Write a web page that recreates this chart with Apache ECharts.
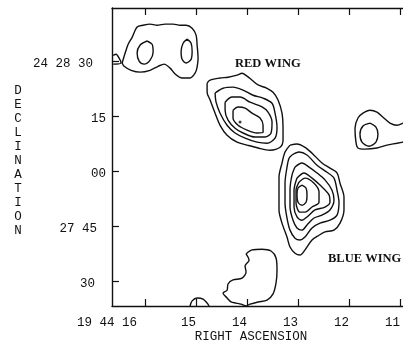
<!DOCTYPE html>
<html>
<head>
<meta charset="utf-8">
<script src="https://cdn.jsdelivr.net/npm/echarts@6/dist/echarts.min.js"></script>
<style>
html,body{margin:0;padding:0;background:#fff;}
#chart{width:403px;height:345px;}
</style>
</head>
<body>
<div id="chart"></div>
<script>
// Axis: RA seconds of time (19h 44m ss), Dec seconds of arc past 24°27'00"
var xTickValues = [16, 15, 14, 13, 12, 11];
var xTickLabels = ['19 44 16', '15', '14', '13', '12', '11'];
var yTickValues = [90, 75, 60, 45, 30];
var yTickLabels = ['24 28 30', '15', '00', '27 45', '30'];

var nwOuter = [[16.451,89.5],[16.392,92.2],[16.333,94.6],[16.255,96.5],[16.157,99.3],[16.039,99.8],[15.902,100.1],[15.765,99.8],[15.608,100.1],[15.451,100.1],[15.314,99.8],[15.196,99.8],[15.078,99.0],[15.0,97.1],[14.980,94.4],[14.961,90.8],[14.980,88.4],[15.020,86.7],[15.118,85.4],[15.275,85.4],[15.412,86.5],[15.510,88.1],[15.627,89.2],[15.745,88.6],[15.902,87.5],[16.098,87.0],[16.275,87.5],[16.412,88.6],[16.451,89.5]];
var nwLeft = [[15.961,95.5],[15.863,94.6],[15.843,92.5],[15.902,90.3],[16.020,89.2],[16.118,90.0],[16.157,92.2],[16.098,94.4],[15.961,95.5]];
var nwRight = [[15.176,96.0],[15.098,94.9],[15.078,92.7],[15.098,90.5],[15.196,89.5],[15.275,90.5],[15.294,92.7],[15.255,94.9],[15.176,96.0]];
var edgeBit = [[16.627,91.6],[16.569,91.9],[16.510,90.8],[16.471,89.5],[16.627,89.2]];

var red1 = [[14.784,84.0],[14.725,84.8],[14.529,85.4],[14.373,85.6],[14.196,86.2],[14.098,86.7],[14.0,85.9],[13.902,84.8],[13.784,83.5],[13.608,82.6],[13.490,81.5],[13.392,79.4],[13.314,75.8],[13.294,72.0],[13.294,68.5],[13.353,66.5],[13.549,65.7],[13.784,66.3],[14.0,67.1],[14.196,67.9],[14.392,69.8],[14.529,72.5],[14.627,75.8],[14.725,79.4],[14.784,81.5],[14.784,84.0]];
var red2 = [[14.627,81.3],[14.471,82.6],[14.275,82.9],[14.078,82.1],[13.882,80.7],[13.686,79.9],[13.510,78.5],[13.451,75.8],[13.412,72.0],[13.451,69.0],[13.608,67.6],[13.804,67.9],[14.039,69.0],[14.235,70.4],[14.392,72.5],[14.529,75.8],[14.608,78.8],[14.627,81.3]];
var red3 = [[14.431,78.8],[14.294,80.2],[14.137,80.2],[13.941,78.8],[13.706,77.5],[13.588,76.1],[13.510,73.4],[13.529,70.4],[13.647,69.3],[13.843,69.3],[14.078,70.4],[14.235,71.7],[14.373,73.9],[14.431,76.6],[14.431,78.8]];
var red4 = [[14.275,76.6],[14.176,77.5],[14.039,77.2],[13.902,75.8],[13.745,74.5],[13.686,72.5],[13.686,70.6],[13.804,70.4],[14.0,71.2],[14.176,72.5],[14.275,74.5],[14.275,76.6]];
var redPeak = [[14.137,73.4]];

var eOuter = [[10.843,68.2],[11.059,67.6],[11.255,67.1],[11.451,66.3],[11.686,66.0],[11.824,66.3],[11.863,67.9],[11.882,71.7],[11.824,74.5],[11.725,75.8],[11.588,76.6],[11.451,76.1],[11.333,74.7],[11.196,73.1],[11.059,72.5],[10.941,73.1],[10.843,73.9]];
var eInner = [[11.588,73.1],[11.471,72.0],[11.431,70.1],[11.471,67.9],[11.608,66.8],[11.745,67.9],[11.784,70.1],[11.725,72.3],[11.588,73.1]];

var blue1 = [[13.157,67.1],[13.020,67.4],[12.863,66.5],[12.725,64.9],[12.529,62.2],[12.373,60.8],[12.235,59.5],[12.176,56.7],[12.098,52.9],[12.098,49.4],[12.176,45.8],[12.294,43.9],[12.471,43.4],[12.588,42.5],[12.725,41.2],[12.863,38.5],[12.961,37.1],[13.059,37.6],[13.157,39.3],[13.216,42.0],[13.314,45.8],[13.373,49.4],[13.373,54.0],[13.373,58.4],[13.314,62.2],[13.255,65.2],[13.157,67.1]];
var blue2 = [[13.118,64.4],[12.980,65.2],[12.824,64.4],[12.627,61.6],[12.431,59.7],[12.294,58.1],[12.235,54.8],[12.196,51.5],[12.235,48.0],[12.373,46.6],[12.569,45.8],[12.725,44.5],[12.863,42.0],[12.961,41.2],[13.059,41.7],[13.157,43.9],[13.216,47.2],[13.255,51.3],[13.255,56.7],[13.216,61.1],[13.176,63.5],[13.118,64.4]];
var blue3 = [[13.059,61.1],[12.922,62.2],[12.784,61.1],[12.627,59.5],[12.471,57.6],[12.333,54.8],[12.294,52.1],[12.373,49.4],[12.529,48.0],[12.686,47.2],[12.824,45.3],[12.922,43.9],[13.020,44.5],[13.098,46.6],[13.157,50.2],[13.157,54.8],[13.118,58.9],[13.059,61.1]];
var blue4 = [[13.020,58.1],[12.882,59.5],[12.725,58.1],[12.569,56.2],[12.392,53.5],[12.373,51.5],[12.471,50.2],[12.667,49.4],[12.824,47.5],[12.922,46.6],[13.020,47.5],[13.078,50.2],[13.078,54.8],[13.020,58.1]];
var blue5 = [[12.980,57.0],[12.863,58.1],[12.686,56.7],[12.588,54.3],[12.588,51.5],[12.725,50.2],[12.863,48.8],[12.961,48.8],[13.039,51.3],[13.039,54.8],[12.980,57.0]];
var blue6 = [[12.922,56.2],[12.843,55.4],[12.824,53.5],[12.843,51.5],[12.922,50.7],[13.0,51.5],[13.020,53.5],[13.0,55.4],[12.922,56.2]];

var sBlob = [[14.020,37.4],[13.902,38.5],[13.706,38.7],[13.529,38.2],[13.431,36.3],[13.412,33.0],[13.431,29.5],[13.490,26.5],[13.608,24.8],[13.784,24.3],[13.941,23.7],[14.020,23.2],[14.118,23.7],[14.216,24.0],[14.314,24.3],[14.392,25.4],[14.471,26.7],[14.392,27.5],[14.373,29.2],[14.275,30.3],[14.098,30.8],[14.020,32.5],[14.039,34.1],[13.961,35.7],[14.020,37.4]];
var sDome = [[15.118,23.2],[15.078,24.6],[14.980,25.4],[14.863,25.1],[14.784,24.0],[14.745,23.2]];

var contours = [nwOuter, nwLeft, nwRight, edgeBit, red1, red2, red3, red4, eOuter, eInner, blue1, blue2, blue3, blue4, blue5, blue6, sBlob, sDome];

var INK = '#111';
var MONO = '"Liberation Mono", "DejaVu Sans Mono", monospace';
var SERIF = '"Liberation Serif", "DejaVu Serif", serif';

var chart = echarts.init(document.getElementById('chart'), null, {renderer: 'canvas'});

var series = contours.map(function (c) {
  return {
    type: 'line', data: c, showSymbol: false, smooth: 0.3, clip: true,
    lineStyle: {color: INK, width: 1.4}, silent: true, z: 3
  };
});
series.push({
  type: 'scatter', data: redPeak, symbolSize: 3,
  itemStyle: {color: INK}, silent: true, z: 4
});

var xRich = {
  first: {fontFamily: MONO, fontSize: 12.5, color: INK, padding: [0, 8, 0, 0]},
  n: {fontFamily: MONO, fontSize: 12.5, color: INK}
};
var yRich = {
  a: {fontFamily: MONO, fontSize: 12.5, color: INK, padding: [5, 13, 0, 0]},
  b: {fontFamily: MONO, fontSize: 12.5, color: INK, padding: [5, 0, 0, 0]},
  c: {fontFamily: MONO, fontSize: 12.5, color: INK, padding: [6, 9, 0, 0]},
  d: {fontFamily: MONO, fontSize: 12.5, color: INK, padding: [5, 11, 0, 0]}
};
var yStyleKeys = ['a', 'b', 'b', 'c', 'd'];

chart.setOption({
  animation: false,
  backgroundColor: '#fff',
  grid: {left: 112, top: 8, right: 0, bottom: 39, containLabel: false},
  xAxis: [{
    type: 'value', position: 'bottom', min: 10.94, max: 16.65, inverse: true,
    axisLine: {show: true, lineStyle: {color: INK, width: 1.4}},
    axisTick: {show: true, inside: true, length: 7, customValues: xTickValues, lineStyle: {color: INK, width: 1.2}},
    axisLabel: {
      show: true, customValues: xTickValues, margin: 10, align: 'right',
      formatter: function (v) {
        var i = xTickValues.indexOf(v);
        var t = i >= 0 ? xTickLabels[i] : '';
        return i === 0 ? '{first|' + t + '}' : '{n|' + t + '}';
      },
      rich: xRich
    },
    splitLine: {show: false}
  }, {
    type: 'value', position: 'top', min: 10.94, max: 16.65, inverse: true,
    axisLine: {show: true, lineStyle: {color: INK, width: 1.4}},
    axisTick: {show: true, inside: true, length: 7, customValues: xTickValues, lineStyle: {color: INK, width: 1.2}},
    axisLabel: {show: false},
    splitLine: {show: false}
  }],
  yAxis: {
    type: 'value', min: 23.2, max: 104.5,
    axisLine: {show: true, lineStyle: {color: INK, width: 1.4}},
    axisTick: {show: true, inside: true, length: 7, customValues: yTickValues, lineStyle: {color: INK, width: 1.2}},
    axisLabel: {
      show: true, customValues: yTickValues, margin: 6,
      formatter: function (v) {
        var i = yTickValues.indexOf(v);
        if (i < 0) return '';
        return '{' + yStyleKeys[i] + '|' + yTickLabels[i] + '}';
      },
      rich: yRich
    },
    splitLine: {show: false}
  },
  graphic: [
    {type: 'text', x: 251, y: 337, silent: true,
     style: {text: 'RIGHT ASCENSION', fill: INK, font: '12.5px ' + MONO, textAlign: 'center', textVerticalAlign: 'middle'}},
    {type: 'text', x: 18, y: 161, silent: true,
     style: {text: 'D\nE\nC\nL\nI\nN\nA\nT\nI\nO\nN', fill: INK, font: '12.5px ' + MONO, lineHeight: 14, textAlign: 'center', textVerticalAlign: 'middle'}},
    {type: 'text', x: 235, y: 64, silent: true,
     style: {text: 'RED WING', fill: INK, font: 'bold 12.5px ' + SERIF, textAlign: 'left', textVerticalAlign: 'middle'}},
    {type: 'text', x: 328, y: 259, silent: true,
     style: {text: 'BLUE WING', fill: INK, font: 'bold 12.5px ' + SERIF, textAlign: 'left', textVerticalAlign: 'middle'}}
  ],
  series: series
});
</script>
</body>
</html>
